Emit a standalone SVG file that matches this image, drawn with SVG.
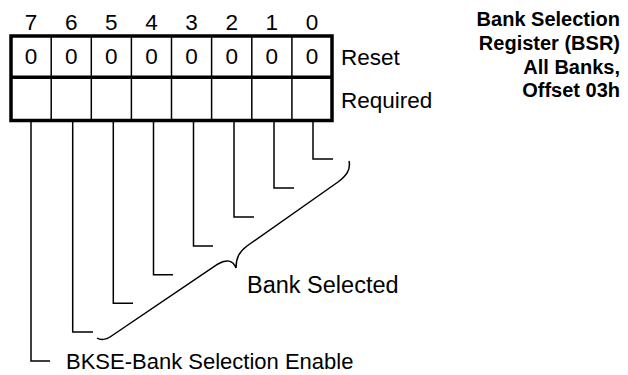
<svg xmlns="http://www.w3.org/2000/svg" width="628" height="375" viewBox="0 0 628 375">
<style>
text{font-family:"Liberation Sans",Arial,sans-serif;fill:#000}
.n{font-size:22.5px;text-anchor:middle}
.l{font-size:22.5px}
.t{font-size:20px;font-weight:bold;text-anchor:end}
.thin{stroke:#000;stroke-width:1.5;fill:none}
.thick{stroke:#000;stroke-width:3.5;fill:none}
</style>
<rect width="628" height="375" fill="#fff"/>
<g id="title">
<text class="t" x="620" y="26">Bank Selection</text>
<text class="t" x="620" y="50">Register (BSR)</text>
<text class="t" x="620" y="74">All Banks,</text>
<text class="t" x="620" y="97">Offset 03h</text>
</g>
<g id="register">
<g class="thin">
<line x1="51.2" y1="36" x2="51.2" y2="120.5"/>
<line x1="91.3" y1="36" x2="91.3" y2="120.5"/>
<line x1="131.4" y1="36" x2="131.4" y2="120.5"/>
<line x1="171.5" y1="36" x2="171.5" y2="120.5"/>
<line x1="211.6" y1="36" x2="211.6" y2="120.5"/>
<line x1="251.8" y1="36" x2="251.8" y2="120.5"/>
<line x1="291.9" y1="36" x2="291.9" y2="120.5"/>
</g>
<rect class="thick" x="11" y="36" width="321" height="84.5"/>
<line class="thick" x1="11" y1="77.3" x2="332" y2="77.3"/>
<g class="n">
<text x="31" y="30">7</text><text x="71.2" y="30">6</text><text x="111.3" y="30">5</text><text x="151.4" y="30">4</text>
<text x="191.5" y="30">3</text><text x="231.7" y="30">2</text><text x="271.8" y="30">1</text><text x="311.9" y="30">0</text>
<text x="31" y="64">0</text><text x="71.2" y="64">0</text><text x="111.3" y="64">0</text><text x="151.4" y="64">0</text>
<text x="191.5" y="64">0</text><text x="231.7" y="64">0</text><text x="271.8" y="64">0</text><text x="311.9" y="64">0</text>
</g>
<text class="l" x="341" y="65">Reset</text>
<text class="l" x="341" y="108">Required</text>
</g>
<g id="connectors" class="thin">
<polyline points="313,120.5 313,159 333,159"/>
<polyline points="274,120.5 274,188 294,188"/>
<polyline points="234,120.5 234,217 254,217"/>
<polyline points="193.5,120.5 193.5,246 213,246"/>
<polyline points="153.5,120.5 153.5,274.7 173,274.7"/>
<polyline points="113.3,120.5 113.3,303.3 133,303.3"/>
<polyline points="72.7,120.5 72.7,332 93,332"/>
<polyline points="31,120.5 31,361 50,361"/>
<path d="M349,161 C351,170 346,176 338,182 L247,246 C239,252 236,258 236,268 C233,260 226,259 218,264 L110,337 C106,340 100,340 97,338"/>
</g>
<g id="bank-selected"><text class="l" x="247" y="293" style="font-size:23.5px">Bank Selected</text></g>
<g id="bkse"><text class="l" x="66" y="369" style="font-size:22px">BKSE-Bank Selection Enable</text></g>
</svg>
